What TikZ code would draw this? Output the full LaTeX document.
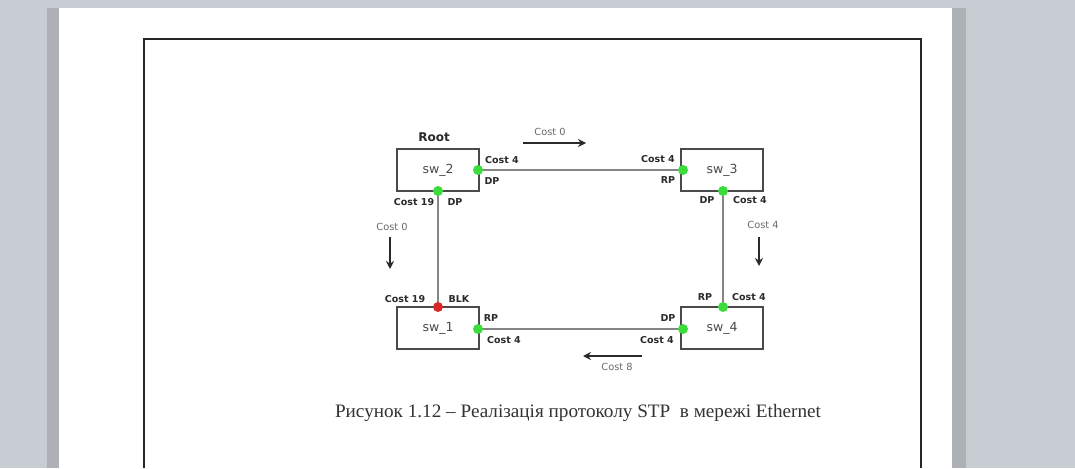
\documentclass[tikz,border=0pt]{standalone}
\usepackage{fontspec}
\setmainfont{Liberation Serif}
\newfontfamily\lblfont{DejaVu Sans}
\usetikzlibrary{arrows.meta}
\definecolor{deskgray}{HTML}{C8CCD3}
\definecolor{edgegray}{HTML}{ADB0B5}
\definecolor{portgreen}{HTML}{3CDC3C}
\definecolor{portred}{HTML}{D82828}
\definecolor{linkgray}{HTML}{858585}
\definecolor{boxgray}{HTML}{4A4A4A}
\definecolor{txtdark}{HTML}{2A2A2A}
\definecolor{costgray}{HTML}{6A6A6A}
\tikzset{
  x=1pt, y=-1pt,
  swbox/.style={draw=boxgray, line width=2.2pt, fill=white, minimum width=82pt, minimum height=42pt, inner sep=0pt, font=\lblfont\fontsize{12.5}{12.5}\selectfont, text=txtdark!85},
  link/.style={draw=linkgray, line width=2.6pt},
  portok/.style={circle, fill=portgreen, minimum size=10pt, inner sep=0pt},
  portblk/.style={circle, fill=portred, minimum size=10pt, inner sep=0pt},
  plabel/.style={font=\lblfont\bfseries\fontsize{9.5}{9.5}\selectfont, text=txtdark, inner sep=0pt},
  costlbl/.style={font=\lblfont\fontsize{9.8}{9.8}\selectfont, text=costgray, inner sep=0pt},
  flow/.style={draw=txtdark, line width=1.6pt, -{Stealth[length=8pt,width=8pt]}},
}
\begin{document}
\begin{tikzpicture}
% desktop and page
\fill[deskgray] (0,0) rectangle (1075,468);
\fill[edgegray] (47,8) rectangle (59,468);
\fill[edgegray] (952,8) rectangle (966,468);
\fill[white] (59,8) rectangle (952,468);
\useasboundingbox (0,0) rectangle (1075,468);
% figure frame
\draw[line width=2.2pt, draw=black!85] (144,468) -- (144,39) -- (921,39) -- (921,468);

% links
\coordinate (s2r) at (478,170);
\coordinate (s3l) at (683,170);
\coordinate (s2b) at (438,191);
\coordinate (s1t) at (438,307);
\coordinate (s3b) at (723,191);
\coordinate (s4t) at (723,307);
\coordinate (s1r) at (478,329);
\coordinate (s4l) at (683,329);
\draw[link] (s2r) -- (s3l);
\draw[link] (s2b) -- (s1t);
\draw[link] (s3b) -- (s4t);
\draw[link] (s1r) -- (s4l);

% switches
\node[swbox] (sw2) at (438,170) {sw\_2};
\node[swbox] (sw3) at (722,170) {sw\_3};
\node[swbox] (sw1) at (438,328) {sw\_1};
\node[swbox] (sw4) at (722,328) {sw\_4};

% ports
\node[portok] (p2r) at (s2r) {};
\node[portok] (p2b) at (s2b) {};
\node[portok] (p3l) at (s3l) {};
\node[portok] (p3b) at (s3b) {};
\node[portblk] (p1t) at (s1t) {};
\node[portok] (p1r) at (s1r) {};
\node[portok] (p4t) at (s4t) {};
\node[portok] (p4l) at (s4l) {};

% port labels
\node[plabel, font=\lblfont\bfseries\fontsize{12}{12}\selectfont] (root) at (434,137) {Root};
\node[plabel] (l1) at (502,160) {Cost 4};
\node[plabel] (l2) at (492,181) {DP};
\node[plabel] (l3) at (414,202) {Cost 19};
\node[plabel] (l4) at (455,202) {DP};
\node[plabel] (l5) at (658,159) {Cost 4};
\node[plabel] (l6) at (668,180) {RP};
\node[plabel] (l7) at (707,200) {DP};
\node[plabel] (l8) at (750,200) {Cost 4};
\node[plabel] (l9) at (405,299) {Cost 19};
\node[plabel] (l10) at (459,299) {BLK};
\node[plabel] (l11) at (491,318) {RP};
\node[plabel] (l12) at (504,340) {Cost 4};
\node[plabel] (l13) at (705,297) {RP};
\node[plabel] (l14) at (749,297) {Cost 4};
\node[plabel] (l15) at (668,318) {DP};
\node[plabel] (l16) at (657,340) {Cost 4};

% path cost flow
\node[costlbl] (c1) at (550,132) {Cost 0};
\coordinate (a1s) at (523,143);
\coordinate (a1e) at (586,143);
\draw[flow] (a1s) -- (a1e);
\node[costlbl] (c2) at (392,227) {Cost 0};
\coordinate (a2s) at (390,237);
\coordinate (a2e) at (390,269);
\draw[flow] (a2s) -- (a2e);
\node[costlbl] (c3) at (763,225) {Cost 4};
\coordinate (a3s) at (759,237);
\coordinate (a3e) at (759,266);
\draw[flow] (a3s) -- (a3e);
\node[costlbl] (c4) at (617,367) {Cost 8};
\coordinate (a4s) at (642,356);
\coordinate (a4e) at (583,356);
\draw[flow] (a4s) -- (a4e);

% caption
\node[inner sep=0pt, text=black!80, font=\fontsize{19}{19}\selectfont] (cap) at (578,413)
  {\scalebox{1.01}[1]{Рисунок 1.12 – Реалізація протоколу STP\ \ в мережі Ethernet}};
\end{tikzpicture}
\end{document}
